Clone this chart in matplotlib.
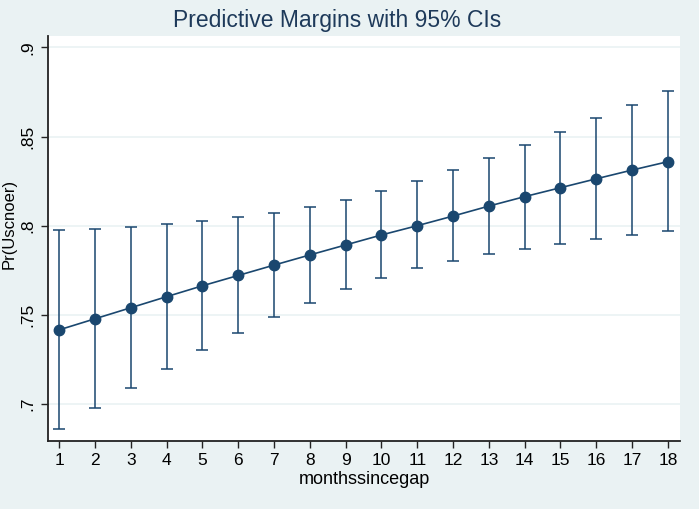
import matplotlib
matplotlib.use("Agg")
import matplotlib.pyplot as plt

months = list(range(1, 19))
margin = [0.7416, 0.7478, 0.7540, 0.7602, 0.7663, 0.7721, 0.7779, 0.7836, 0.7892,
          0.7948, 0.8000, 0.8054, 0.8110, 0.8163, 0.8213, 0.8263, 0.8312, 0.8359]
ci_low = [0.6860, 0.6978, 0.7088, 0.7194, 0.7301, 0.7398, 0.7487, 0.7569, 0.7644,
          0.7707, 0.7761, 0.7804, 0.7840, 0.7872, 0.7899, 0.7924, 0.7946, 0.7968]
ci_high = [0.7974, 0.7980, 0.7995, 0.8008, 0.8025, 0.8047, 0.8073, 0.8103, 0.8144,
           0.8193, 0.8248, 0.8310, 0.8379, 0.8452, 0.8526, 0.8603, 0.8678, 0.8756]
yticks = [0.7, 0.75, 0.8, 0.85, 0.9]
ytick_labels = [".7", ".75", ".8", ".85", ".9"]

plt.rcParams['font.family'] = ['Liberation Sans', 'DejaVu Sans']
bg = "#eaf2f3"
navy = "#1a476f"

fig = plt.figure(figsize=(6.99, 5.09), dpi=100, facecolor=bg)
ax = fig.add_axes([48/699, 1-440.7/509, (680-48)/699, (440.7-36)/509])
ax.set_facecolor("white")

yerr = [[m - l for m, l in zip(margin, ci_low)], [h - m for m, h in zip(margin, ci_high)]]
ax.errorbar(months, margin, yerr=yerr, fmt="none", ecolor=navy, elinewidth=1.1,
            capsize=4, capthick=1.1, zorder=2)
ax.plot(months, margin, color=navy, lw=1.2, marker="o", markersize=7.5, zorder=3)

ax.set_xlim(0.684, 18.34)
ax.set_ylim(0.6794, 0.9064)
ax.set_xticks(months)
ax.set_yticks(yticks)
ax.set_yticklabels(ytick_labels, rotation=90, va="center")
ax.grid(axis="y", color="#eaf2f3", lw=1.2)
ax.set_axisbelow(True)
for s in ["top", "right"]:
    ax.spines[s].set_visible(False)
for s in ["left", "bottom"]:
    ax.spines[s].set_color("#222222")
    ax.spines[s].set_linewidth(1.3)
ax.tick_params(axis="both", labelsize=12.5, color="#222222", length=5, width=1, pad=4)
ax.set_xlabel("monthssincegap", fontsize=13, labelpad=2)
ax.set_ylabel("Pr(Uscnoer)", fontsize=12)
ax.yaxis.label.set_verticalalignment("center")
ax.yaxis.set_label_coords(-0.062, 0.535)
fig.suptitle("Predictive Margins with 95% CIs", x=337/699, y=1-21/509, va="center",
             fontsize=16.5, color="#1e3a5a")

fig.savefig("out.png", dpi=100, facecolor=bg)
